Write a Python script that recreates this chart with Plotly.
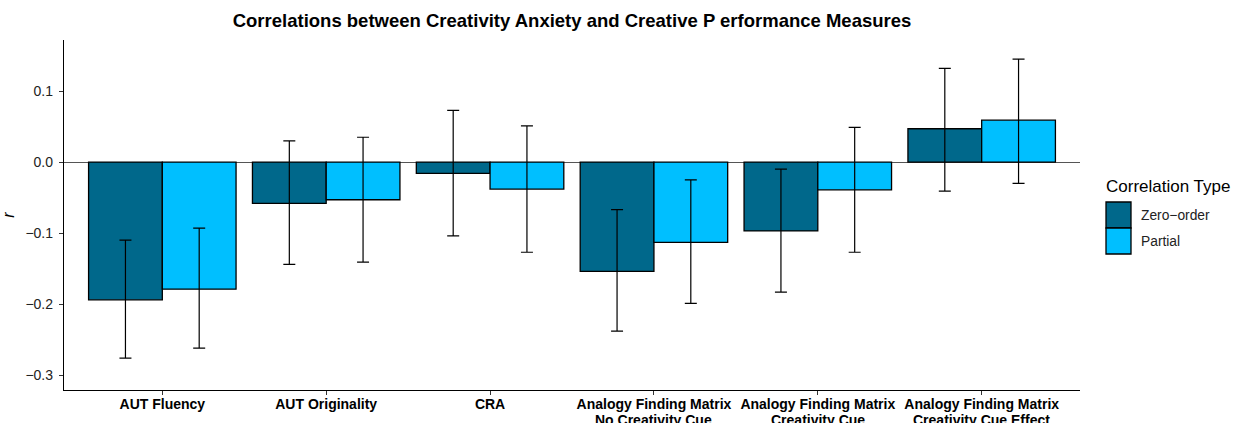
import plotly.graph_objects as go

# Performance measures (x categories), split over two label lines
measures_line1 = [
    "AUT Fluency",
    "AUT Originality",
    "CRA",
    "Analogy Finding Matrix",
    "Analogy Finding Matrix",
    "Analogy Finding Matrix",
]
measures_line2 = ["", "", "", "No Creativity Cue", "Creativity Cue", "Creativity Cue Effect"]

# Correlation with creativity anxiety
zero_order_r = [-0.194, -0.058, -0.016, -0.154, -0.097, 0.047]
partial_r = [-0.179, -0.053, -0.038, -0.113, -0.039, 0.059]

# 95% confidence limits
zero_order_lo = [-0.276, -0.144, -0.104, -0.238, -0.183, -0.041]
zero_order_hi = [-0.110, 0.030, 0.073, -0.067, -0.010, 0.132]
partial_lo = [-0.262, -0.141, -0.127, -0.199, -0.127, -0.030]
partial_hi = [-0.093, 0.035, 0.051, -0.025, 0.049, 0.145]

series_names = ["Zero\u2212order", "Partial"]
series_colors = ["#00688B", "#00BFFF"]

FONT = "Liberation Sans, Arial, Helvetica, sans-serif"

# Panel geometry in pixels
L, R, T, B = 64, 1080, 40, 390
W, H = 1243, 423

fig = go.Figure()

for name, color, r, lo, hi in [
    (series_names[0], series_colors[0], zero_order_r, zero_order_lo, zero_order_hi),
    (series_names[1], series_colors[1], partial_r, partial_lo, partial_hi),
]:
    fig.add_trace(
        go.Bar(
            name=name,
            x=list(range(len(measures_line1))),
            y=r,
            marker=dict(color=color, line=dict(color="black", width=1.3)),
            error_y=dict(
                type="data",
                symmetric=False,
                array=[h - v for h, v in zip(hi, r)],
                arrayminus=[v - l for v, l in zip(r, lo)],
                color="black",
                thickness=1.2,
                width=6,
            ),
            showlegend=False,
        )
    )

fig.update_layout(
    width=W,
    height=H,
    margin=dict(l=L, r=W - R, t=T, b=H - B, autoexpand=False),
    paper_bgcolor="white",
    plot_bgcolor="white",
    barmode="group",
    bargap=0.1,
    bargroupgap=0,
    font=dict(family=FONT, color="black", size=13),
    title=dict(
        text="<b>Correlations between Creativity Anxiety and Creative P erformance Measures</b>",
        x=(L + R) / 2 / W,
        xanchor="center",
        y=1 - 21 / H,
        yanchor="middle",
        font=dict(family=FONT, size=18.5, color="black"),
    ),
    xaxis=dict(
        range=[-0.6, 5.6],
        tickmode="array",
        tickvals=list(range(len(measures_line1))),
        ticktext=[f"<b>{m}</b>" for m in measures_line1],
        tickfont=dict(size=14, color="black"),
        showline=True,
        linecolor="black",
        linewidth=1.3,
        ticks="outside",
        ticklen=4,
        tickcolor="#333333",
        ticklabelstandoff=-3,
        showgrid=False,
        zeroline=False,
        automargin=False,
    ),
    yaxis=dict(
        range=[-0.321, 0.172],
        tickvals=[-0.3, -0.2, -0.1, 0.0, 0.1],
        ticktext=["\u22120.3", "\u22120.2", "\u22120.1", "0.0", "0.1"],
        tickfont=dict(size=14, color="#222222"),
        showline=True,
        linecolor="black",
        linewidth=1.3,
        ticks="outside",
        ticklen=4,
        tickcolor="#333333",
        ticklabelstandoff=3,
        showgrid=False,
        zeroline=True,
        zerolinecolor="#555555",
        zerolinewidth=1,
        automargin=False,
        title=dict(text="<i>r</i>", font=dict(size=16, color="black"), standoff=14),
    ),
)

# Second line of the long category labels
for i, txt in enumerate(measures_line2):
    if txt:
        fig.add_annotation(
            xref="x", yref="paper", x=i, y=(B - 420) / (B - T),
            text=f"<b>{txt}</b>", showarrow=False,
            xanchor="center", yanchor="middle",
            font=dict(size=14, color="black"),
        )

# Legend drawn as keys with labels to the right of the panel
def px_x(px):
    return (px - L) / (R - L)

def px_y(py):
    return (B - py) / (B - T)

fig.add_annotation(
    xref="paper", yref="paper",
    x=px_x(1104), y=px_y(186),
    text="Correlation Type",
    showarrow=False, xanchor="left", yanchor="middle",
    font=dict(size=17, color="black"),
)
key_tops = [202, 228]
for name, color, top in zip(series_names, series_colors, key_tops):
    fig.add_shape(
        type="rect", xref="paper", yref="paper",
        x0=px_x(1106), x1=px_x(1131), y0=px_y(top), y1=px_y(top + 26),
        fillcolor=color, line=dict(color="black", width=1.3),
    )
    fig.add_annotation(
        xref="paper", yref="paper",
        x=px_x(1139), y=px_y(top + 13),
        text=name, showarrow=False, xanchor="left", yanchor="middle",
        font=dict(size=13.8, color="#222222"),
    )

fig.write_html("out.html")
